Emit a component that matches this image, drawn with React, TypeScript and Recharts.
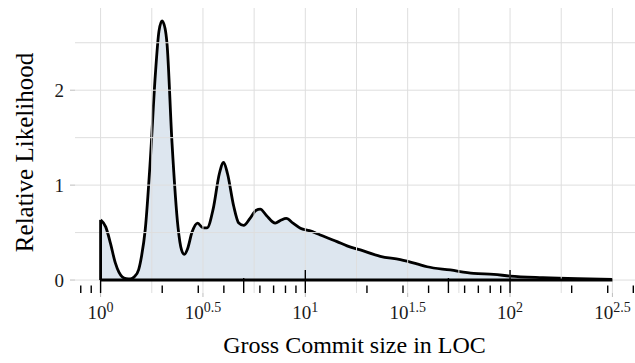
import { AreaChart, Area, XAxis, YAxis, ReferenceLine, ReferenceArea } from "recharts"

// log10(commit size) and density
const logSize = [
  0, 0.025, 0.048, 0.072, 0.09, 0.105, 0.125, 0.145, 0.165, 0.186, 0.2, 0.218, 0.243, 0.267,
  0.285, 0.3, 0.315, 0.324, 0.349, 0.378, 0.395, 0.409, 0.425, 0.446, 0.474, 0.5, 0.52, 0.55,
  0.58, 0.601, 0.62, 0.65, 0.675, 0.699, 0.73, 0.76, 0.78, 0.81, 0.853, 0.88, 0.907, 0.94,
  0.976, 1.02, 1.073, 1.155, 1.204, 1.269, 1.366, 1.464, 1.546, 1.595, 1.708, 1.822, 1.92,
  2.0, 2.16, 2.33, 2.5,
]
const density = [
  0.634, 0.56, 0.39, 0.18, 0.08, 0.035, 0.015, 0.012, 0.035, 0.11, 0.25, 0.53, 1.27, 2.15,
  2.62, 2.73, 2.65, 2.5, 1.44, 0.56, 0.32, 0.27, 0.33, 0.5, 0.6, 0.55, 0.55, 0.75,
  1.12, 1.24, 1.12, 0.78, 0.6, 0.575, 0.65, 0.735, 0.747, 0.68, 0.6, 0.63, 0.65, 0.6,
  0.546, 0.52, 0.475, 0.405, 0.36, 0.317, 0.25, 0.215, 0.17, 0.14, 0.106, 0.07, 0.06,
  0.042, 0.025, 0.014, 0.008,
]

const xBreaks = [0, 0.5, 1, 1.5, 2, 2.5]
const xBreakLabels = ["0", "0.5", "1", "1.5", "2", "2.5"]
const xMinor = [0.25, 0.75, 1.25, 1.75, 2.25]
const yBreaks = [0, 1, 2]
const yMinor = [0.5, 1.5, 2.5]
const logTickLoc = [
  0.8, 0.9, 1, 2, 3, 4, 5, 6, 7, 8, 9, 10, 20, 30, 40, 50, 60, 70, 80, 90, 100, 200, 300, 400,
]

const data = logSize.map((x, i) => ({ x, d: density[i] }))

const serif = '"Liberation Serif", "DejaVu Serif", serif'
const gridColor = "#dedede"

function PowTick({ x, y, payload }: any) {
  const exp = xBreakLabels[xBreaks.indexOf(payload.value)]
  return (
    <text x={x} y={y} dy={20} textAnchor="middle" fontSize={19} fill="#1a1a1a" fontFamily={serif}>
      <tspan>10</tspan>
      <tspan dy={-7.5} fontSize={14}>{exp}</tspan>
    </text>
  )
}

function logTickShape(value: number) {
  const lead = Math.round(value / Math.pow(10, Math.floor(Math.log10(value) + 1e-9)))
  const len = lead === 1 ? 23 : lead === 5 ? 15 : 7.5
  return (p: any) => {
    const bottom = Math.max(p.y1, p.y2)
    return <line x1={p.x1} x2={p.x1} y1={bottom} y2={bottom - len} stroke="#000" strokeWidth={1.4} />
  }
}

export default function App() {
  return (
    <div style={{ position: "fixed", left: 0, top: 0, width: 635, height: 363, overflow: "hidden", background: "#fff" }}>
      <AreaChart width={638} height={363} data={data} margin={{ top: 8, right: 0, bottom: 0, left: 0 }}>
        {xMinor.concat(xBreaks).map((v) => (
          <ReferenceLine key={"gx" + v} x={v} stroke={gridColor} strokeWidth={1} />
        ))}
        {yMinor.concat(yBreaks).map((v) => (
          <ReferenceLine key={"gy" + v} y={v} stroke={gridColor} strokeWidth={1} />
        ))}
        <ReferenceArea fill="none" stroke="#c4c4c4" strokeWidth={1} ifOverflow="visible" />
        <XAxis
          type="number"
          dataKey="x"
          domain={[-0.125, 2.625]}
          allowDataOverflow
          ticks={xBreaks}
          tick={<PowTick />}
          tickSize={4}
          tickMargin={2}
          tickLine={{ stroke: "#bdbdbd" }}
          axisLine={false}
          height={70}
          label={{
            content: ({ viewBox }: any) => (
              <text
                x={viewBox.x + viewBox.width / 2 - 2}
                y={viewBox.y + 60}
                textAnchor="middle"
                fontSize={24}
                fill="#000"
                fontFamily={serif}
              >
                Gross Commit size in LOC
              </text>
            ),
          }}
        />
        <YAxis
          type="number"
          domain={[-0.1365, 2.866]}
          allowDataOverflow
          ticks={yBreaks}
          width={75}
          tickSize={5}
          tickMargin={6}
          tickLine={{ stroke: "#bdbdbd" }}
          axisLine={false}
          tick={{ fontSize: 19, fill: "#1a1a1a", fontFamily: serif }}
          label={{
            content: ({ viewBox }: any) => {
              const cx = 24
              const cy = viewBox.y + viewBox.height / 2 + 2
              return (
                <text
                  x={cx}
                  y={cy}
                  transform={`rotate(-90 ${cx} ${cy})`}
                  textAnchor="middle"
                  dominantBaseline="central"
                  fontSize={25}
                  fill="#000"
                  fontFamily={serif}
                >
                  Relative Likelihood
                </text>
              )
            },
          }}
        />
        <Area
          type="monotone"
          dataKey="d"
          baseValue={0}
          stroke="#000"
          strokeWidth={2.8}
          fill="#dde6ef"
          fillOpacity={1}
          isAnimationActive={false}
          dot={false}
          activeDot={false}
        />
        <ReferenceLine
          segment={[{ x: logSize[0], y: 0 }, { x: logSize[logSize.length - 1], y: 0 }]}
          stroke="#000"
          strokeWidth={3}
        />
        <ReferenceLine
          segment={[{ x: logSize[0], y: 0 }, { x: logSize[0], y: density[0] }]}
          stroke="#000"
          strokeWidth={2.8}
        />
        {logTickLoc.map((v) => (
          <ReferenceLine key={"lt" + v} x={Math.log10(v)} shape={logTickShape(v)} />
        ))}
      </AreaChart>
    </div>
  )
}
